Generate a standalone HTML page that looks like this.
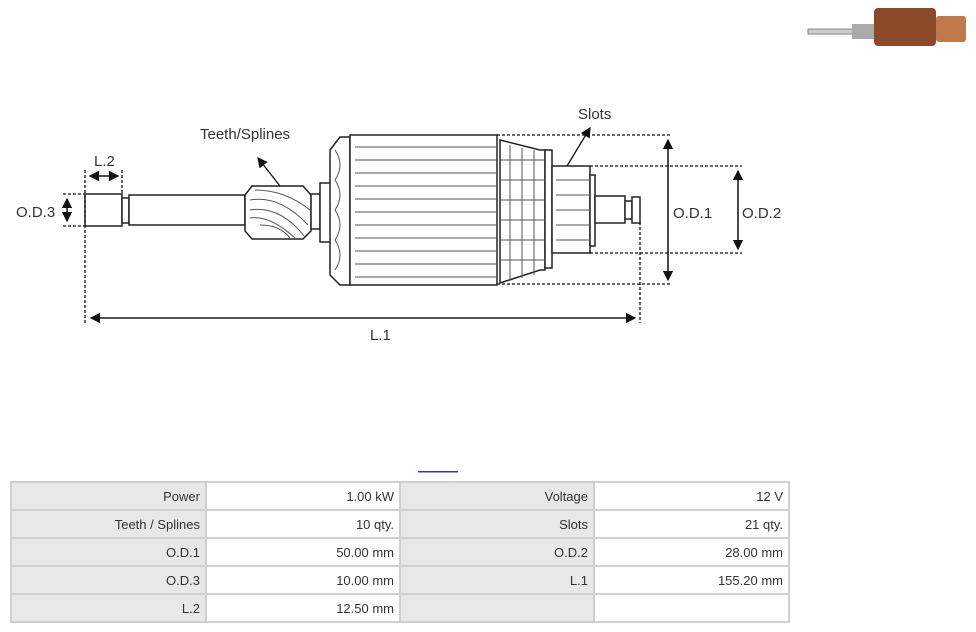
<!DOCTYPE html>
<html><head><style>
body{margin:0;width:976px;height:632px;background:#fff;position:relative;overflow:hidden;font-family:"Liberation Sans",sans-serif}
table{position:absolute;left:10px;top:481px;border-collapse:collapse;font-size:13px;color:#333}
td{border:2px solid #d0d0d0;height:28px;padding:0 5px;text-align:right;box-sizing:border-box}
td.l{background:#e8e8e8}
</style></head><body>
<svg width="976" height="632" style="position:absolute;left:0;top:0" font-family="Liberation Sans, sans-serif" font-size="15" fill="#333">
<defs><marker id="a" markerWidth="8" markerHeight="8" refX="7" refY="4" orient="auto"><path d="M0,0L8,4L0,8z" fill="#111"/></marker></defs>
<!-- thumbnail -->
<rect x="808" y="29" width="50" height="5" fill="#ccc" stroke="#888" stroke-width="1"/>
<rect x="852" y="24" width="22" height="15" fill="#aaa"/>
<rect x="874" y="8" width="62" height="38" rx="4" fill="#8a4a2a"/>
<rect x="936" y="16" width="30" height="26" rx="3" fill="#c07a4a"/>
<g stroke="#222" stroke-width="1.5" fill="#fff">
<rect x="85" y="194" width="37" height="32"/>
<rect x="122" y="198" width="7" height="25"/>
<rect x="129" y="195" width="116" height="30"/>
<path d="M245,195 L252,186 L303,186 L311,195 L311,231 L303,239 L252,239 L245,231 Z"/>
<rect x="311" y="194" width="9" height="35"/>
<rect x="320" y="183" width="13" height="59"/>
<path d="M340,137 L330,150 L330,275 L340,285 L350,285 L350,137 Z"/>
<rect x="350" y="135" width="147" height="150"/>
<path d="M500,140 L540,150 L545,150 L545,270 L540,270 L500,283 Z"/>
<rect x="545" y="150" width="7" height="118"/>
<rect x="552" y="166" width="38" height="87"/>
<rect x="590" y="175" width="5" height="71"/>
<rect x="595" y="196" width="30" height="27"/>
<rect x="625" y="201" width="7" height="18"/>
<rect x="632" y="197" width="8" height="26"/>
</g>
<g stroke="#555" stroke-width="1" fill="none">
<path d="M355,147H497M355,160H497M355,173H497M355,186H497M355,199H497M355,212H497M355,225H497M355,238H497M355,251H497M355,264H497M355,277H497"/>
<path d="M556,180H590M556,195H590M556,210H590M556,225H590M556,240H590"/>
<path d="M250,200 Q280,195 308,225M250,210 Q280,205 305,237M255,190 Q285,190 310,210M260,225 Q280,225 290,238M250,218 Q270,215 295,238"/>
<path d="M500,160H545M500,180H545M500,200H545M500,220H545M500,240H545M500,260H545M510,145V280M522,148V278M534,150V275"/>
<path d="M335,150 Q345,165 335,180 Q345,195 335,210 Q345,225 335,240 Q345,255 335,270"/>
</g>
<g stroke="#111" stroke-width="1.3" stroke-dasharray="3,2" fill="none">
<path d="M85,170V323M122,170V194M63,194H85M63,226H85M497,135H672M497,284H672M590,166H742M590,253H742M640,222V323"/>
</g>
<g stroke="#111" stroke-width="1.3" fill="none" marker-end="url(#a)">
<path d="M90,176H118"/><path d="M118,176H90"/>
<path d="M67,221V199"/><path d="M67,199V221"/>
<path d="M668,280V140"/><path d="M668,140V280"/>
<path d="M738,249V171"/><path d="M738,171V249"/>
<path d="M635,318H91"/><path d="M91,318H635"/>
<path d="M280,186L258,158"/>
<path d="M567,166L590,128"/>
</g>
<text x="200" y="139">Teeth/Splines</text>
<text x="578" y="119">Slots</text>
<text x="94" y="166">L.2</text>
<text x="16" y="217">O.D.3</text>
<text x="673" y="218">O.D.1</text>
<text x="742" y="218">O.D.2</text>
<text x="370" y="340">L.1</text>
<rect x="418" y="471" width="40" height="1.5" fill="#33c"/>
</svg>
<table>
<tr><td class="l" style="width:195px">Power</td><td style="width:194px">1.00 kW</td><td class="l" style="width:194px">Voltage</td><td style="width:195px">12 V</td></tr>
<tr><td class="l">Teeth / Splines</td><td>10 qty.</td><td class="l">Slots</td><td>21 qty.</td></tr>
<tr><td class="l">O.D.1</td><td>50.00 mm</td><td class="l">O.D.2</td><td>28.00 mm</td></tr>
<tr><td class="l">O.D.3</td><td>10.00 mm</td><td class="l">L.1</td><td>155.20 mm</td></tr>
<tr><td class="l">L.2</td><td>12.50 mm</td><td class="l"></td><td></td></tr>
</table>
</body></html>
